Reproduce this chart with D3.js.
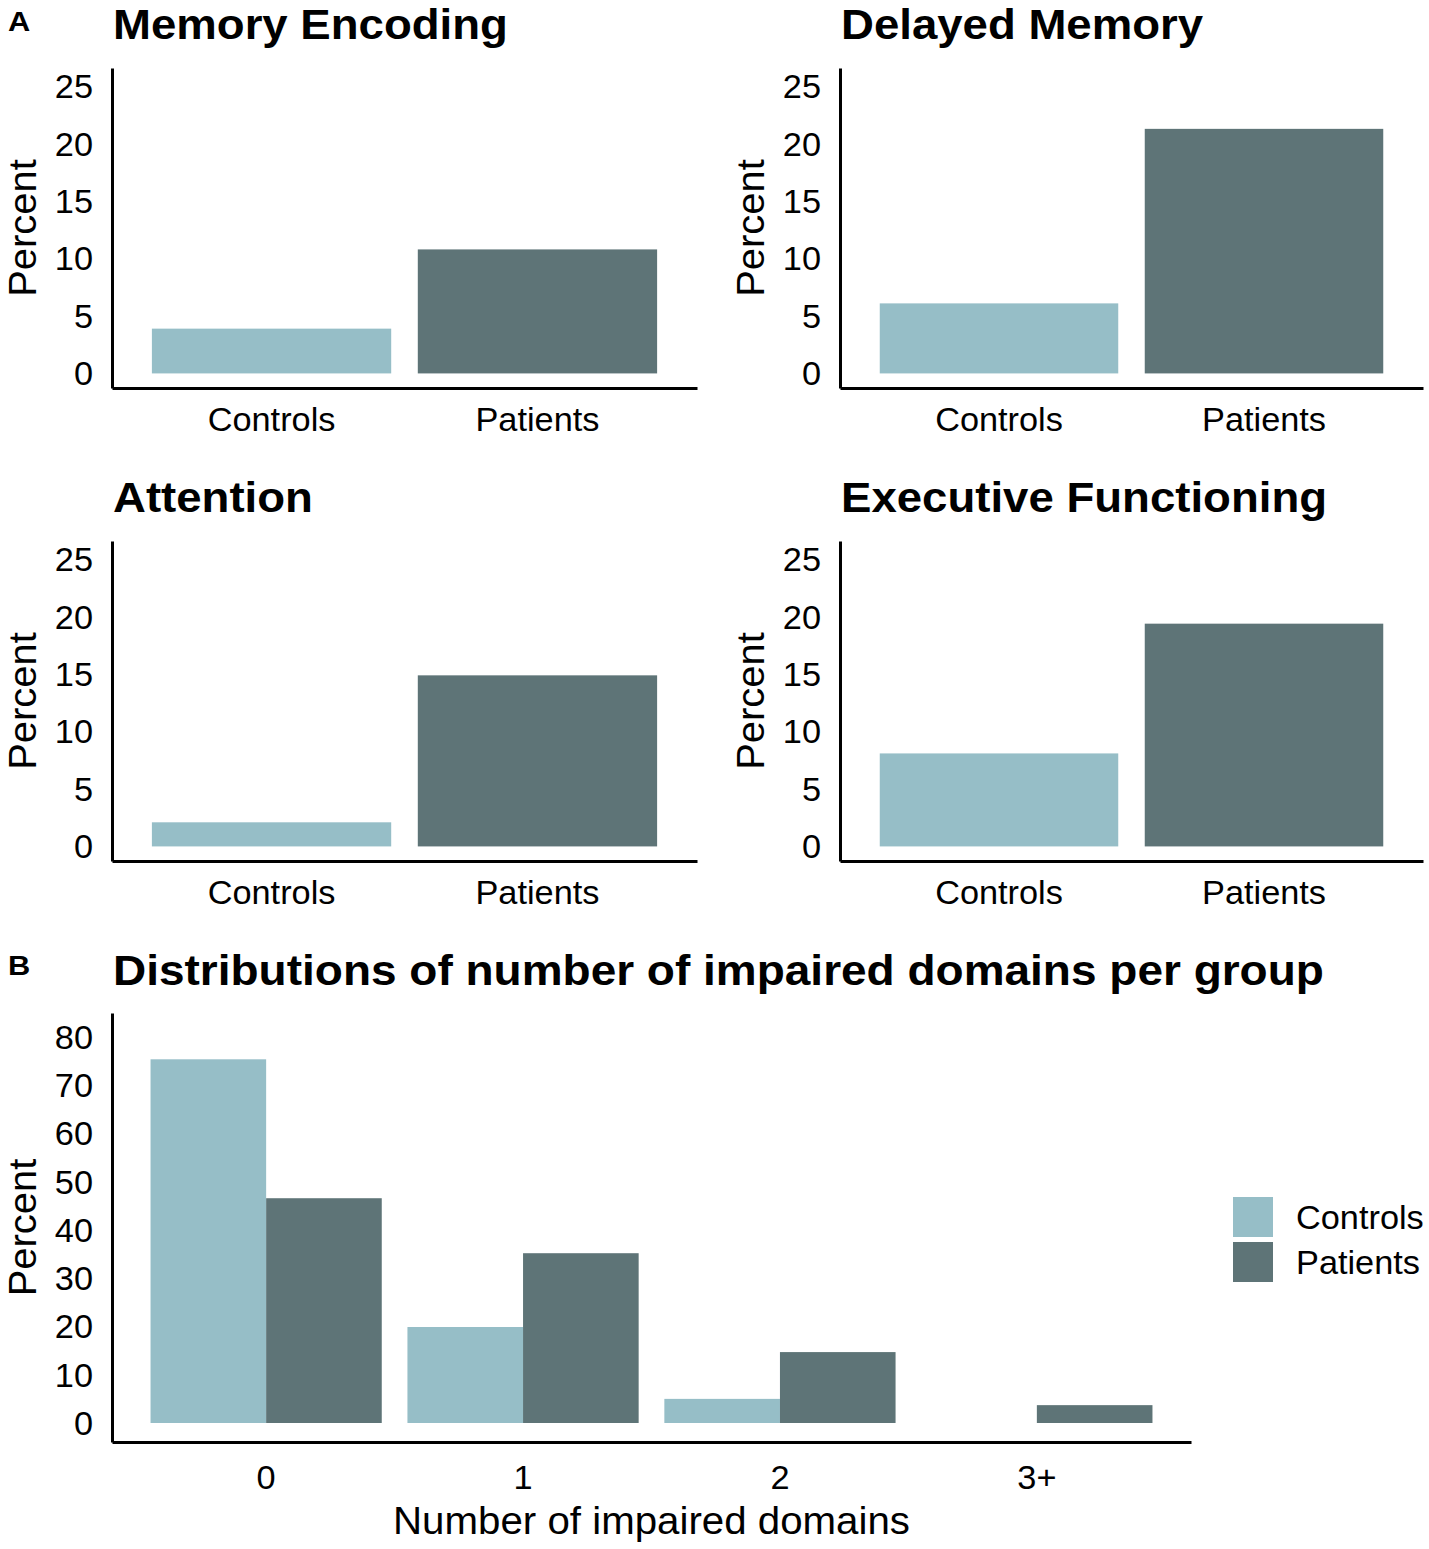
<!DOCTYPE html>
<html>
<head>
<meta charset="utf-8">
<script src="https://cdn.jsdelivr.net/npm/d3@7"></script>
<style>
  body { margin: 0; background: #fff; }
  svg text { font-family: "Liberation Sans", Arial, Helvetica, sans-serif; fill: #000; }
</style>
</head>
<body>
<svg width="1429" height="1549"></svg>
<script>
// data
var domains = ['Memory Encoding', 'Delayed Memory', 'Attention', 'Executive Functioning'];
var groups = ['Controls', 'Patients'];
var controlsImpaired = [3.9, 6.1, 2.1, 8.1];
var patientsImpaired = [10.8, 21.3, 14.9, 19.4];
var ticksA = [0, 5, 10, 15, 20, 25];

var nImpaired = ['0', '1', '2', '3+'];
var controlsDist = [75.4, 19.9, 5.0, 0];
var patientsDist = [46.6, 35.2, 14.7, 3.7];
var ticksB = [0, 10, 20, 30, 40, 50, 60, 70, 80];

var colors = ['#96bec7', '#5e7477'];
var color = d3.scaleOrdinal().domain(groups).range(colors);

var svg = d3.select('svg');
var sx = 1.04;   // the figure's type runs a little wide
var sxBold = 1.085;

function label(sel, txt, x, y, opt) {
  opt = opt || {};
  var rot = opt.rotate ? ' rotate(' + opt.rotate + ')' : '';
  return sel.append('text')
    .attr('transform', 'translate(' + x + ',' + y + ')' + rot + ' scale(' + (opt.sx || sx) + ',1)')
    .attr('text-anchor', opt.anchor || 'start')
    .attr('dy', opt.dy || 0)
    .style('font-size', opt.size + 'px')
    .style('font-weight', opt.bold ? 'bold' : 'normal')
    .text(txt);
}

function styleAxis(g, pad, horizontal) {
  g.select('.domain').attr('stroke', '#000').attr('stroke-width', 3);
  g.selectAll('.tick line').remove();
  g.selectAll('.tick text')
    .attr('x', null).attr('y', null).attr('dy', null)
    .attr('fill', '#000')
    .style('font-size', '33px')
    .attr('dominant-baseline', 'central')
    .attr('transform', horizontal
      ? 'translate(0,' + pad + ') scale(' + sx + ',1)'
      : 'translate(' + (-pad) + ',0) scale(' + sx + ',1)');
}

// ---- panel A: four small bar charts ----
var frames = [
  {left: 112, right: 697, top: 68, bottom: 388},
  {left: 840, right: 1423, top: 68, bottom: 388},
  {left: 112, right: 697, top: 541, bottom: 861},
  {left: 840, right: 1423, top: 541, bottom: 861}
];

domains.forEach(function(name, i) {
  var f = frames[i];
  var vals = [controlsImpaired[i], patientsImpaired[i]];
  var x = d3.scaleBand().domain(groups).range([f.left, f.right])
    .paddingInner(0.1).paddingOuter(0.15);
  var y = d3.scaleLinear().domain([-1.27, 26.6]).range([f.bottom, f.top]);

  var g = svg.append('g');
  g.selectAll('rect').data(groups).enter().append('rect')
    .attr('x', function(d) { return x(d); })
    .attr('width', x.bandwidth())
    .attr('y', function(d, j) { return y(vals[j]); })
    .attr('height', function(d, j) { return y(0) - y(vals[j]); })
    .attr('fill', function(d) { return color(d); });

  var ya = g.append('g').attr('transform', 'translate(' + f.left + ',0)')
    .call(d3.axisLeft(y).tickValues(ticksA).tickSize(0).tickSizeOuter(0));
  styleAxis(ya, 19, false);

  var xa = g.append('g').attr('transform', 'translate(0,' + f.bottom + ')')
    .call(d3.axisBottom(x).tickSize(0).tickSizeOuter(0));
  styleAxis(xa, 32, true);

  label(g, 'Percent', f.left - 89, (f.top + f.bottom) / 2,
    {rotate: -90, anchor: 'middle', dy: '0.35em', size: 38, sx: 1.05});
  label(g, name, f.left + 1, f.top - 29, {size: 42, bold: true, sx: sxBold});
});

label(svg, 'A', 8, 31, {size: 28, bold: true, sx: 1.1});

// ---- panel B: grouped bars ----
var fb = {left: 112, right: 1191, top: 1013, bottom: 1442};
var distRows = nImpaired.map(function(k, i) {
  return {key: k, values: [controlsDist[i], patientsDist[i]]};
});

var x0 = d3.scaleBand().domain(nImpaired).range([fb.left, fb.right])
  .paddingInner(0.1).paddingOuter(0.15);
var x1 = d3.scaleBand().domain(groups).range([0, x0.bandwidth()]);
var yb = d3.scaleLinear().domain([-3.94, 85]).range([fb.bottom, fb.top]);

var gb = svg.append('g');
gb.selectAll('.cluster').data(distRows).enter().append('g')
  .attr('class', 'cluster')
  .attr('transform', function(d) { return 'translate(' + x0(d.key) + ',0)'; })
  .selectAll('rect')
  .data(function(d) { return d.values.map(function(v, j) { return {group: groups[j], value: v}; }); })
  .enter().append('rect')
  .attr('x', function(d) { return x1(d.group); })
  .attr('width', x1.bandwidth())
  .attr('y', function(d) { return yb(d.value); })
  .attr('height', function(d) { return yb(0) - yb(d.value); })
  .attr('fill', function(d) { return color(d.group); });

var yba = gb.append('g').attr('transform', 'translate(' + fb.left + ',0)')
  .call(d3.axisLeft(yb).tickValues(ticksB).tickSize(0).tickSizeOuter(0));
styleAxis(yba, 19, false);

var xba = gb.append('g').attr('transform', 'translate(0,' + fb.bottom + ')')
  .call(d3.axisBottom(x0).tickSize(0).tickSizeOuter(0));
styleAxis(xba, 36, true);

label(gb, 'Percent', fb.left - 89, (fb.top + fb.bottom) / 2,
  {rotate: -90, anchor: 'middle', dy: '0.35em', size: 38, sx: 1.05});
label(gb, 'Number of impaired domains', (fb.left + fb.right) / 2, 1534,
  {anchor: 'middle', size: 38, sx: 1.06});
label(gb, 'Distributions of number of impaired domains per group', fb.left + 1, 985,
  {size: 42, bold: true, sx: 1.095});
label(svg, 'B', 8, 975, {size: 28, bold: true, sx: 1.1});

// legend
var legend = svg.append('g').attr('transform', 'translate(1233,1197)');
var item = legend.selectAll('g').data(groups).enter().append('g')
  .attr('transform', function(d, i) { return 'translate(0,' + (i * 45) + ')'; });
item.append('rect').attr('width', 40).attr('height', 40)
  .attr('fill', function(d) { return color(d); });
item.each(function(d) {
  label(d3.select(this), d, 63, 20, {size: 33, dy: '0.35em'});
});
</script>
</body>
</html>
